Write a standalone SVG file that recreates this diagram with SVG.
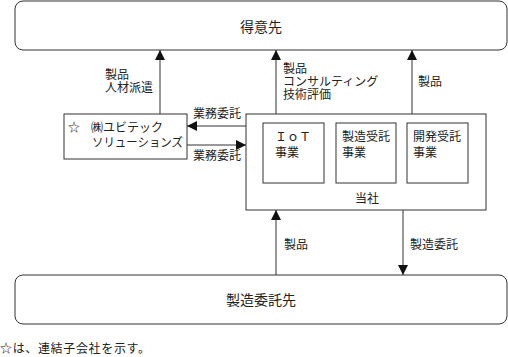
<svg xmlns="http://www.w3.org/2000/svg" width="508" height="357" viewBox="0 0 508 357">
<defs>
<style>
text{font-family:"Liberation Serif","Noto Sans CJK JP",serif;font-size:12px;fill:#222}
.big{font-size:14px}
.box{fill:#fff;stroke:#333;stroke-width:1}
.ln{stroke:#333;stroke-width:1;fill:none;marker-end:url(#ah)}
</style>
<marker id="ah" markerUnits="userSpaceOnUse" markerWidth="10" markerHeight="10" viewBox="0 0 10 10" refX="10" refY="5" orient="auto">
<path d="M0,0 L10,5 L0,10 Z" fill="#111"/>
</marker>
</defs>
<rect width="508" height="357" fill="#fff"/>
<g id="connectors">
<line class="ln" x1="160" y1="114" x2="160" y2="50"/>
<line class="ln" x1="276" y1="114" x2="276" y2="50"/>
<line class="ln" x1="412" y1="114" x2="412" y2="50"/>
<line class="ln" x1="246" y1="126" x2="187" y2="126"/>
<line class="ln" x1="187" y1="145" x2="246" y2="145"/>
<line class="ln" x1="276" y1="275" x2="276" y2="210"/>
<line class="ln" x1="403" y1="210" x2="403" y2="275"/>
<text x="105" y="79">製品</text>
<text x="105" y="92">人材派遣</text>
<text x="283" y="73">製品</text>
<text x="283" y="86">コンサルティング</text>
<text x="283" y="99">技術評価</text>
<text x="418" y="86">製品</text>
<text x="193" y="118">業務委託</text>
<text x="193" y="160">業務委託</text>
<text x="284" y="249">製品</text>
<text x="410" y="249">製造委託</text>
</g>
<g id="tokuisaki">
<rect class="box" x="15" y="1" width="492" height="49" rx="8"/>
<text class="big" x="261" y="32" text-anchor="middle">得意先</text>
</g>
<g id="ubitech">
<rect class="box" x="64" y="114" width="123" height="45"/>
<text x="68" y="132">☆</text>
<text x="91" y="132">㈱ユビテック</text>
<text x="92" y="147" textLength="91" lengthAdjust="spacingAndGlyphs">ソリューションズ</text>
</g>
<g id="tousha">
<rect class="box" x="246" y="114" width="240" height="96"/>
<text x="367" y="203" text-anchor="middle">当社</text>
</g>
<g id="iot">
<rect class="box" x="263" y="123" width="61" height="60"/>
<text x="275" y="141">ＩｏＴ</text>
<text x="275" y="157">事業</text>
</g>
<g id="seizo">
<rect class="box" x="336" y="123" width="60" height="60"/>
<text x="342" y="141">製造受託</text>
<text x="342" y="157">事業</text>
</g>
<g id="kaihatsu">
<rect class="box" x="407" y="123" width="61" height="60"/>
<text x="413" y="141">開発受託</text>
<text x="413" y="157">事業</text>
</g>
<g id="seizoitakusaki">
<rect class="box" x="15" y="275" width="492" height="49" rx="8"/>
<text class="big" x="261" y="305" text-anchor="middle">製造委託先</text>
</g>
<text x="0" y="353" textLength="150">☆は、連結子会社を示す。</text>
</svg>
